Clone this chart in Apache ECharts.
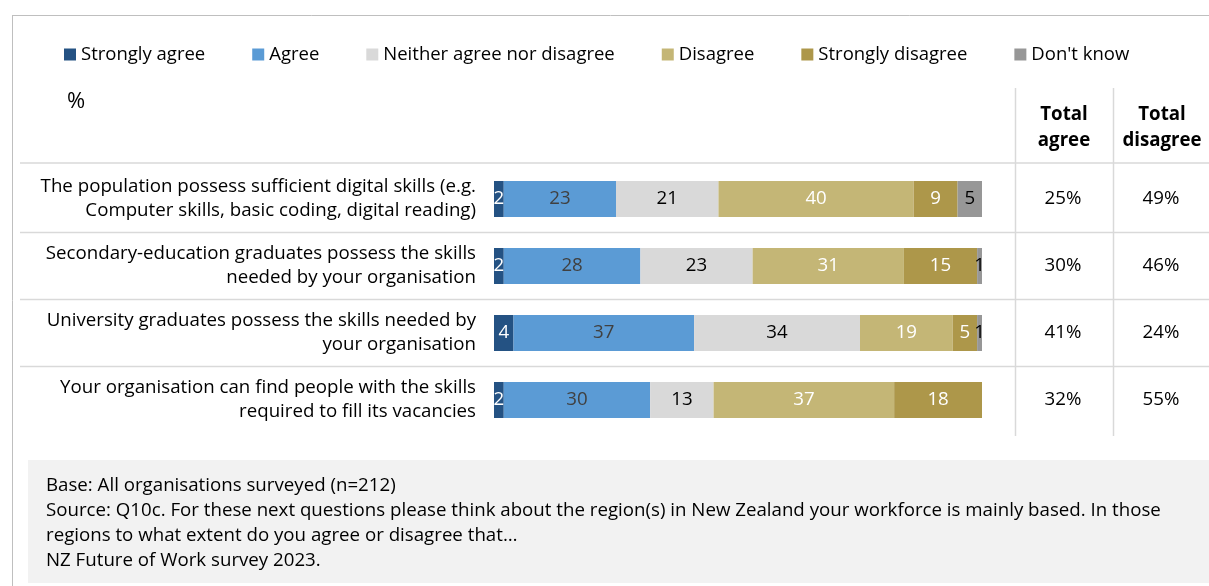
<!DOCTYPE html>
<html>
<head>
<meta charset="utf-8">
<script src="https://cdn.jsdelivr.net/npm/echarts@6/dist/echarts.min.js"></script>
<style>
  html, body { margin: 0; padding: 0; background: #ffffff; }
  #chart { width: 1209px; height: 586px; }
</style>
</head>
<body>
<div id="chart"></div>
<script>
// Survey statements (one bar each)
const statements = [
  'The population possess sufficient digital skills (e.g.\nComputer skills, basic coding, digital reading)',
  'Secondary-education graduates possess the skills\nneeded by your organisation',
  'University graduates possess the skills needed by\nyour organisation',
  'Your organisation can find people with the skills\nrequired to fill its vacancies'
];

// Response shares, %
const stronglyAgree    = [2, 2, 4, 2];
const agree            = [23, 28, 37, 30];
const neither          = [21, 23, 34, 13];
const disagree         = [40, 31, 19, 37];
const stronglyDisagree = [9, 15, 5, 18];
const dontKnow         = [5, 1, 1, 0];

// Summary columns, %
const totalAgree    = [25, 30, 41, 32];
const totalDisagree = [49, 46, 24, 55];

const footnotes = [
  'Base: All organisations surveyed (n=212)',
  'Source: Q10c. For these next questions please think about the region(s) in New Zealand your workforce is mainly based. In those',
  'regions to what extent do you agree or disagree that\u2026',
  'NZ Future of Work survey 2023.'
];

const FONT = "'Open Sans', 'Noto Sans', sans-serif";
const FS = 18.7;

const responses = [
  { name: 'Strongly agree',             data: stronglyAgree,    color: '#245283', text: '#ffffff' },
  { name: 'Agree',                      data: agree,            color: '#5b9bd5', text: '#404040' },
  { name: 'Neither agree nor disagree', data: neither,          color: '#d9d9d9', text: '#000000' },
  { name: 'Disagree',                   data: disagree,         color: '#c4b676', text: '#ffffff' },
  { name: 'Strongly disagree',          data: stronglyDisagree, color: '#ad974a', text: '#ffffff' },
  { name: "Don't know",                 data: dontKnow,         color: '#979797', text: '#000000' }
];

const chart = echarts.init(document.getElementById('chart'), null, { renderer: 'canvas' });

const option = {
  animation: false,
  textStyle: { fontFamily: FONT },
  legend: {
    left: 59,
    top: 40,
    itemWidth: 12,
    itemHeight: 12,
    itemGap: 47,
    icon: 'rect',
    selectedMode: false,
    textStyle: { fontFamily: FONT, fontSize: 18.5, color: '#000000' },
    data: responses.map(r => r.name)
  },
  grid: { left: 494, width: 488, top: 165.5, height: 268, containLabel: false },
  xAxis: {
    type: 'value', min: 0, max: 100,
    show: false
  },
  yAxis: [
    {
      type: 'category', data: statements, inverse: true,
      axisLine: { show: false }, axisTick: { show: false }, splitLine: { show: false },
      axisLabel: {
        margin: 18, align: 'right', fontFamily: FONT, fontSize: FS,
        lineHeight: 24, color: '#000000'
      }
    },
    {
      type: 'category', data: statements, inverse: true, position: 'right',
      axisLine: { show: false }, axisTick: { show: false }, splitLine: { show: false },
      axisLabel: {
        margin: 81, align: 'center', fontFamily: FONT, fontSize: FS, color: '#000000',
        formatter: (v, i) => totalAgree[i] + '%'
      }
    },
    {
      type: 'category', data: statements, inverse: true, position: 'right',
      axisLine: { show: false }, axisTick: { show: false }, splitLine: { show: false },
      axisLabel: {
        margin: 179, align: 'center', fontFamily: FONT, fontSize: FS, color: '#000000',
        formatter: (v, i) => totalDisagree[i] + '%'
      }
    }
  ],
  series: responses.map(r => ({
    name: r.name,
    type: 'bar',
    stack: 'share',
    barWidth: 36,
    data: r.data,
    itemStyle: { color: r.color },
    label: {
      show: true,
      position: 'inside',
      fontFamily: FONT,
      fontSize: FS,
      color: r.text,
      formatter: p => (p.value > 0 ? String(p.value) : '')
    }
  }))
};

chart.setOption(option);

// Table rules, header and footnote box laid out around the plot
const yFirst = chart.convertToPixel({ yAxisIndex: 0 }, statements[0]);
const ySecond = chart.convertToPixel({ yAxisIndex: 0 }, statements[1]);
const band = ySecond - yFirst;
const ruleColor = '#d9d9d9';
const graphics = [];

// outer frame (top and left edges)
graphics.push({ type: 'line', shape: { x1: 12, y1: 15.5, x2: 1209, y2: 15.5 }, style: { stroke: '#bfbfbf', lineWidth: 1 } });
graphics.push({ type: 'line', shape: { x1: 12.5, y1: 15, x2: 12.5, y2: 586 }, style: { stroke: '#bfbfbf', lineWidth: 1 } });

// header rule, then a rule between each pair of rows
const ruleYs = [163];
for (let i = 1; i < statements.length; i++) {
  ruleYs.push(Math.round(yFirst - band / 2 + i * band) - 0.5);
}
ruleYs.forEach(y => {
  graphics.push({ type: 'line', shape: { x1: 20, y1: y, x2: 1209, y2: y }, style: { stroke: ruleColor, lineWidth: 1.5 } });
});

// column dividers for the summary table
const tableBottom = Math.round(yFirst - band / 2 + statements.length * band) + 2;
[1015.5, 1113.5].forEach(x => {
  graphics.push({ type: 'line', shape: { x1: x, y1: 88, x2: x, y2: tableBottom }, style: { stroke: ruleColor, lineWidth: 1.5 } });
});

// unit marker and column headers
graphics.push({ type: 'text', x: 67, y: 102, style: { text: '%', font: '22px ' + FONT, fill: '#000000', verticalAlign: 'middle' } });
[['Total\nagree', 1064], ['Total\ndisagree', 1162]].forEach(([t, x]) => {
  graphics.push({
    type: 'text', x: x, y: 128,
    style: { text: t, font: 'bold ' + FS + 'px ' + FONT, fill: '#000000', align: 'center', verticalAlign: 'middle', lineHeight: 26 }
  });
});

// footnote box
graphics.push({ type: 'rect', shape: { x: 28, y: 460, width: 1181, height: 123 }, style: { fill: '#f2f2f2' }, z: -1 });
footnotes.forEach((t, i) => {
  graphics.push({
    type: 'text', x: 46, y: 486 + i * 25,
    style: { text: t, font: FS + 'px ' + FONT, fill: '#000000', verticalAlign: 'middle' }
  });
});

chart.setOption({ graphic: graphics });
</script>
</body>
</html>
